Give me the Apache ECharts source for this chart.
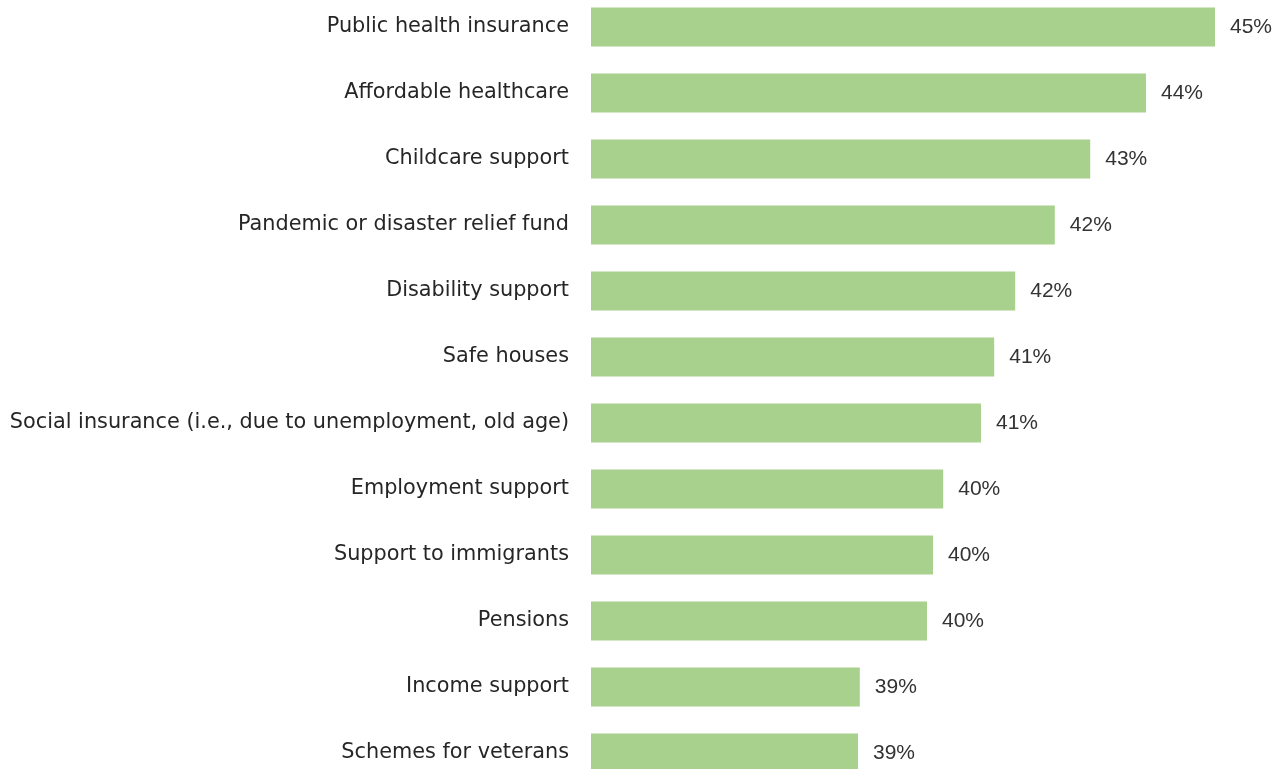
<!DOCTYPE html>
<html>
<head>
<meta charset="utf-8">
<script src="https://cdn.jsdelivr.net/npm/echarts@6/dist/echarts.min.js"></script>
<style>
  html, body { margin: 0; padding: 0; background: #fff; overflow: hidden; }
  body { width: 1287px; height: 769px; position: relative; }
  /* the plot runs slightly past the top and bottom edges of the page */
  #chart { position: absolute; left: 0; top: -6px; width: 1287px; height: 792px; }
</style>
</head>
<body>
<div id="chart"></div>
<script>
// Support measures, top to bottom
const categories = [
  'Public health insurance',
  'Affordable healthcare',
  'Childcare support',
  'Pandemic or disaster relief fund',
  'Disability support',
  'Safe houses',
  'Social insurance (i.e., due to unemployment, old age)',
  'Employment support',
  'Support to immigrants',
  'Pensions',
  'Income support',
  'Schemes for veterans'
];
// Share of respondents (%)
const values = [44.9, 43.75, 42.82, 42.23, 41.57, 41.22, 41.0, 40.37, 40.2, 40.1, 38.98, 38.95];

const chart = echarts.init(document.getElementById('chart'), null, { renderer: 'canvas' });
chart.setOption({
  animation: false,
  grid: { left: 591, right: 36, top: 0, bottom: 0, containLabel: false },
  xAxis: {
    type: 'value',
    min: 34.5,
    max: 45.5,
    show: false
  },
  yAxis: {
    type: 'category',
    data: categories,
    inverse: true,
    axisLine: { show: false },
    axisTick: { show: false },
    axisLabel: {
      margin: 22,
      color: '#262626',
      fontFamily: 'DejaVu Sans',
      fontSize: 20.8,
      padding: [0, 0, 8, 0]
    }
  },
  series: [{
    type: 'bar',
    data: values,
    barWidth: 39,
    itemStyle: { color: '#a9d18e' },
    label: {
      show: true,
      position: 'right',
      distance: 15,
      color: '#333',
      fontFamily: 'Liberation Sans',
      fontSize: 21,
      padding: [2, 0, 0, 0],
      formatter: p => Math.round(p.value) + '%'
    }
  }]
});
</script>
</body>
</html>
